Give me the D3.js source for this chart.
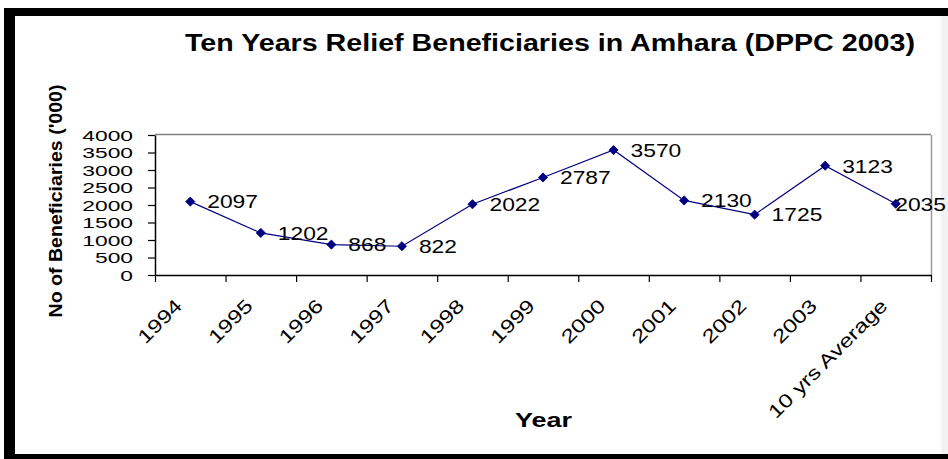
<!DOCTYPE html>
<html>
<head>
<meta charset="utf-8">
<script src="https://cdn.jsdelivr.net/npm/d3@7"></script>
<style>
  html, body { margin: 0; padding: 0; background: #fff; }
  svg { display: block; }
  text { font-family: "Liberation Sans", Arial, sans-serif; fill: #000; }
</style>
</head>
<body>
<svg id="chart" width="948" height="459"></svg>
<script>
const categories = ["1994","1995","1996","1997","1998","1999","2000","2001","2002","2003","10 yrs Average"];
const beneficiaries = [2097, 1202, 868, 822, 2022, 2787, 3570, 2130, 1725, 3123, 2035];
const yTicks = [0, 500, 1000, 1500, 2000, 2500, 3000, 3500, 4000];
const titleText = "Ten Years Relief Beneficiaries in Amhara (DPPC 2003)";
const xTitle = "Year";
const yTitle = "No of Beneficiaries ('000)";

const W = 948, H = 459;
const plot = { left: 155, right: 931, top: 135, bottom: 275 };
const navy = "#000080";

const svg = d3.select("#chart");

function stretch(sel, k) {
  sel.each(function () {
    const w = this.getComputedTextLength();
    d3.select(this).attr("textLength", w * k).attr("lengthAdjust", "spacingAndGlyphs");
  });
}
function fitTo(sel, len) {
  sel.attr("textLength", len).attr("lengthAdjust", "spacingAndGlyphs");
}

svg.append("rect").attr("x", 0).attr("y", 0).attr("width", W).attr("height", H).attr("fill", "#fff");

// frame bars
svg.append("rect").attr("x", 4).attr("y", 8).attr("width", W - 4).attr("height", 8).attr("fill", "#000");
svg.append("rect").attr("x", 4).attr("y", 8).attr("width", 11).attr("height", H - 8).attr("fill", "#000");
svg.append("rect").attr("x", 4).attr("y", 454).attr("width", W - 4).attr("height", 5).attr("fill", "#000");
svg.append("rect").attr("x", 941).attr("y", 16).attr("width", 7).attr("height", 438).attr("fill", "#f2f2f2");

// scales
const x = d3.scaleBand().domain(categories).range([plot.left, plot.right]).padding(0);
const xEdge = d3.scaleLinear().domain([0, categories.length]).range([plot.left, plot.right]);
const y = d3.scaleLinear().domain([0, 4000]).range([plot.bottom, plot.top]);

// plot area border (top & right grey)
svg.append("line").attr("x1", plot.left).attr("x2", plot.right).attr("y1", plot.top - 0.5).attr("y2", plot.top - 0.5)
  .attr("stroke", "#808080").attr("stroke-width", 1.5);
svg.append("line").attr("x1", plot.right + 0.5).attr("x2", plot.right + 0.5).attr("y1", plot.top).attr("y2", plot.bottom)
  .attr("stroke", "#9a9a9a").attr("stroke-width", 1.5);

// y axis
const yAxis = svg.append("g").attr("transform", `translate(${plot.left},0)`)
  .call(d3.axisLeft(y).tickValues(yTicks).tickFormat(d3.format("d")).tickSize(7).tickPadding(15).tickSizeOuter(0));
yAxis.select(".domain").attr("stroke", "#000").attr("stroke-width", 1.5);
yAxis.selectAll(".tick line").attr("stroke", "#000").attr("stroke-width", 1.2);
yAxis.selectAll(".tick text").attr("font-size", 15).attr("font-family", "Liberation Sans, Arial, sans-serif")
  .attr("fill", "#000").attr("dy", "0.36em").call(stretch, 1.52);

// x axis (ticks at band edges)
const xAxis = svg.append("g").attr("transform", `translate(0,${plot.bottom})`)
  .call(d3.axisBottom(xEdge).tickValues(d3.range(categories.length + 1)).tickSize(7).tickFormat("").tickSizeOuter(0));
xAxis.select(".domain").attr("stroke", "#000").attr("stroke-width", 1.5);
xAxis.selectAll(".tick line").attr("stroke", "#000").attr("stroke-width", 1.2);

// x tick labels, rotated
svg.append("g").selectAll("text").data(categories).join("text")
  .attr("transform", d => `translate(${x(d) + x.bandwidth() / 2 - 7},307) rotate(-45)`)
  .attr("text-anchor", "end")
  .attr("font-size", 19)
  .text(d => d)
  .call(stretch, 1.26);

// line
const line = d3.line().x((d, i) => x(categories[i]) + x.bandwidth() / 2).y(d => y(d));
svg.append("path").datum(beneficiaries).attr("d", line)
  .attr("fill", "none").attr("stroke", navy).attr("stroke-width", 1.2);

// markers (diamonds)
svg.append("g").selectAll("path").data(beneficiaries).join("path")
  .attr("d", d3.symbol().type(d3.symbolSquare).size(42))
  .attr("transform", (d, i) => `translate(${x(categories[i]) + x.bandwidth() / 2},${y(d)}) rotate(45)`)
  .attr("fill", navy).attr("stroke", navy).attr("stroke-width", 0.8);

// data labels
svg.append("g").selectAll("text").data(beneficiaries).join("text")
  .attr("x", (d, i) => x(categories[i]) + x.bandwidth() / 2 + 17)
  .attr("y", d => y(d))
  .attr("dy", "0.36em")
  .attr("font-size", 19)
  .attr("fill", "#111")
  .text(d => d)
  .call(stretch, 1.2)
  .each(function () {
    const t = d3.select(this);
    const len = +t.attr("textLength");
    const x0 = +t.attr("x");
    if (x0 + len > 946) t.attr("x", 946 - len);
  });

// title
svg.append("text").attr("x", 185).attr("y", 51).attr("font-size", 23).attr("font-weight", "bold")
  .text(titleText).call(fitTo, 730);

// x title
svg.append("text").attr("x", 515).attr("y", 427).attr("font-size", 20).attr("font-weight", "bold")
  .text(xTitle).call(fitTo, 57);

// y title
svg.append("text").attr("transform", "translate(62,201) rotate(-90)").attr("text-anchor", "middle")
  .attr("font-size", 19).attr("font-weight", "bold")
  .text(yTitle).call(fitTo, 233);
</script>
</body>
</html>
